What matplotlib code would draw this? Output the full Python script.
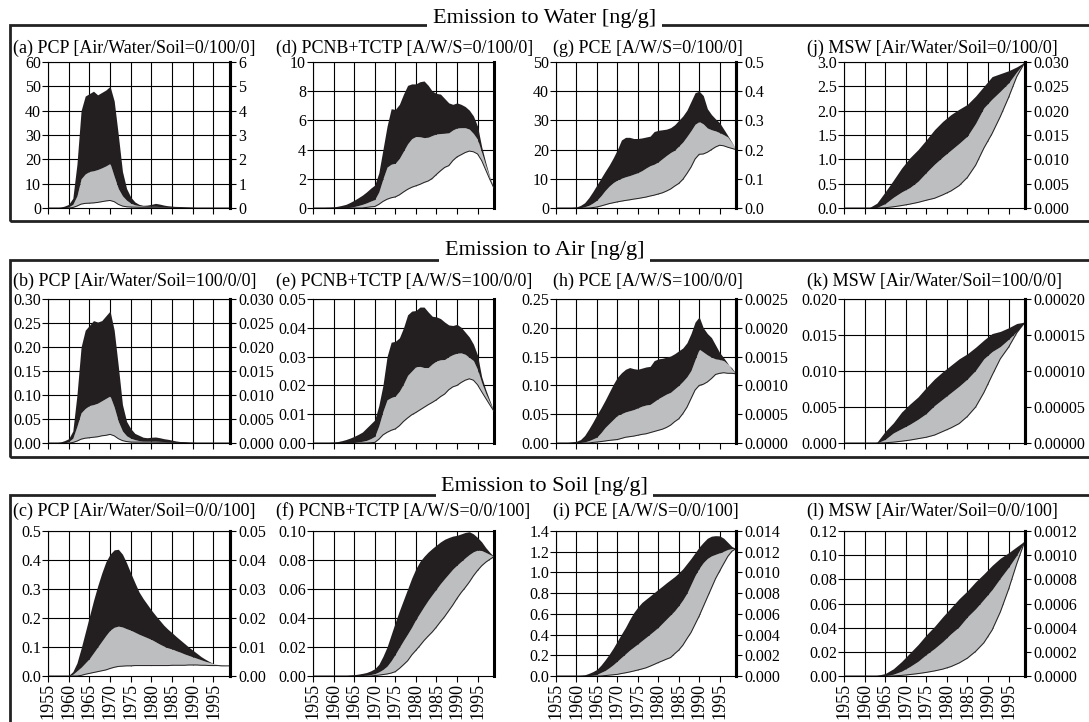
import matplotlib
matplotlib.use('Agg')
import matplotlib.pyplot as plt
from matplotlib.patches import Rectangle
from matplotlib.ticker import FormatStrFormatter
import numpy as np

plt.rcParams['font.family'] = 'Liberation Serif'

W, H = 1089, 722
BLACK = '#231f20'
GRAY = '#bdbec0'

years = np.arange(1955, 2000)        # yearly series
years2 = np.arange(1955, 2000, 2)    # MSW series, every 2 years
tick_years = list(range(1955, 2000, 5))

# --- PCP ---
pcp_w_top = [0, 0, 0.1, 0.3, 0.8, 1.5, 4, 18, 40, 46,
             47, 48, 46.5, 47.5, 48.5, 50, 44, 30, 15, 8,
             4.5, 2.5, 1.5, 1.1, 1.2, 1.5, 1.9, 1.6, 1.2, 0.9,
             0.7, 0.5, 0.3, 0.2, 0.1, 0.05, 0, 0, 0, 0,
             0, 0, 0, 0, 0]
pcp_w_mid = [0, 0, 0, 0, 0, 0.5, 1.5, 5, 12, 14,
             15, 15.3, 15.8, 16.5, 17.3, 18.3, 13, 8, 5, 3.2,
             2, 1.3, 1, 0.8, 0.7, 0.7, 0.7, 0.6, 0.5, 0.4,
             0.3, 0.2, 0.15, 0.1, 0.05, 0, 0, 0, 0, 0,
             0, 0, 0, 0, 0]
pcp_w_low = [0, 0, 0, 0, 0, 0, 0.2, 0.8, 1.6, 1.9,
             2.0, 2.1, 2.3, 2.6, 2.9, 3.1, 2.6, 1.5, 0.8, 0.5,
             0.4, 0.35, 0.3, 0.3, 0.3, 0.3, 0.3, 0.3, 0.3, 0.3,
             0.3, 0.25, 0.2, 0.15, 0.1, 0.05, 0, 0, 0, 0,
             0, 0, 0, 0, 0]

pcp_a_top = [0, 0, 0.0005, 0.002, 0.005, 0.009, 0.025, 0.1, 0.2, 0.235,
             0.245, 0.255, 0.252, 0.255, 0.265, 0.275, 0.235, 0.16, 0.08, 0.045,
             0.03, 0.02, 0.016, 0.012, 0.011, 0.012, 0.0125, 0.011, 0.009, 0.0077,
             0.006, 0.004, 0.003, 0.002, 0.001, 0.0005, 0, 0, 0, 0,
             0, 0, 0, 0, 0]
pcp_a_mid = [0, 0, 0, 0, 0, 0.003, 0.01, 0.035, 0.063, 0.072,
             0.078, 0.08, 0.083, 0.088, 0.093, 0.098, 0.075, 0.045, 0.025, 0.015,
             0.01, 0.007, 0.005, 0.004, 0.004, 0.004, 0.004, 0.0035, 0.003, 0.0025,
             0.002, 0.0015, 0.001, 0.0005, 0, 0, 0, 0, 0, 0,
             0, 0, 0, 0, 0]
pcp_a_low = [0, 0, 0, 0, 0, 0, 0.001, 0.004, 0.008, 0.010,
             0.011, 0.012, 0.013, 0.015, 0.016, 0.018, 0.015, 0.009, 0.005, 0.003,
             0.002, 0.0018, 0.0018, 0.0018, 0.0018, 0.0018, 0.0017, 0.0016, 0.0016, 0.0015,
             0.0015, 0.0013, 0.001, 0.0008, 0.0005, 0.0003, 0, 0, 0, 0,
             0, 0, 0, 0, 0]

pcp_s_top = [0, 0, 0, 0, 0, 0.002, 0.015, 0.045, 0.095, 0.15,
             0.205, 0.26, 0.31, 0.355, 0.394, 0.42, 0.435, 0.437, 0.42, 0.39,
             0.355, 0.322, 0.29, 0.267, 0.247, 0.227, 0.209, 0.192, 0.175, 0.161,
             0.149, 0.136, 0.124, 0.112, 0.1, 0.089, 0.078, 0.067, 0.058, 0.05,
             0.043, 0.04, 0.038, 0.036, 0.035]
pcp_s_mid = [0, 0, 0, 0, 0, 0, 0.006, 0.018, 0.03, 0.045,
             0.06, 0.08, 0.1, 0.12, 0.14, 0.158, 0.168, 0.172, 0.169, 0.163,
             0.158, 0.151, 0.144, 0.138, 0.132, 0.126, 0.118, 0.11, 0.103, 0.097,
             0.093, 0.087, 0.082, 0.076, 0.071, 0.066, 0.061, 0.056, 0.051, 0.047,
             0.043, 0.04, 0.038, 0.036, 0.035]
pcp_s_low = [0, 0, 0, 0, 0, 0, 0, 0, 0.002, 0.006,
             0.009, 0.012, 0.015, 0.018, 0.021, 0.026, 0.03, 0.033, 0.034, 0.035,
             0.035, 0.036, 0.036, 0.036, 0.036, 0.036, 0.036, 0.036, 0.036, 0.036,
             0.037, 0.037, 0.037, 0.037, 0.038, 0.038, 0.038, 0.037, 0.037, 0.036,
             0.036, 0.036, 0.035, 0.035, 0.035]

# --- PCNB+TCTP ---
pcnb_w_top = [0, 0.01, 0.02, 0.04, 0.05, 0.07, 0.12, 0.18, 0.25, 0.38,
              0.53, 0.7, 0.88, 1.1, 1.35, 1.57, 2.4, 4.0, 5.6, 6.8,
              6.75, 7.1, 7.8, 8.4, 8.5, 8.5, 8.65, 8.7, 8.4, 8.0,
              7.85, 7.8, 7.5, 7.2, 7.1, 7.2, 7.1, 6.95, 6.7, 6.3,
              5.6, 4.2, 3.1, 2.1, 1.35]
pcnb_w_mid = [0, 0, 0, 0, 0, 0, 0, 0, 0, 0.05,
              0.1, 0.17, 0.25, 0.35, 0.47, 0.58, 1.1, 2.0, 2.8, 3.0,
              3.07, 3.4, 3.9, 4.4, 4.75, 4.9, 4.88, 4.82, 4.85, 4.97,
              5.07, 5.1, 5.12, 5.15, 5.35, 5.48, 5.5, 5.5, 5.4, 5.1,
              4.7, 3.8, 2.9, 2.05, 1.35]
pcnb_w_low = [0, 0, 0, 0, 0, 0, 0, 0, 0, 0,
              0, 0, 0, 0.04, 0.08, 0.1, 0.25, 0.45, 0.6, 0.7,
              0.76, 0.9, 1.1, 1.28, 1.42, 1.52, 1.62, 1.75, 1.85, 2.03,
              2.3, 2.55, 2.78, 2.9, 3.25, 3.5, 3.65, 3.8, 3.9, 3.85,
              3.7, 3.25, 2.6, 1.95, 1.35]

pcnb_a_top = [0, 0, 0.0001, 0.0001, 0.0002, 0.0003, 0.0005, 0.0008, 0.0012, 0.0017,
              0.0023, 0.003, 0.0038, 0.0052, 0.0066, 0.008, 0.013, 0.02, 0.03, 0.035,
              0.0353, 0.0365, 0.04, 0.0445, 0.0458, 0.046, 0.0472, 0.0472, 0.0455, 0.044,
              0.0438, 0.0432, 0.042, 0.041, 0.0408, 0.0412, 0.0402, 0.0385, 0.0368, 0.0343,
              0.0305, 0.023, 0.0185, 0.0147, 0.011]
pcnb_a_mid = [0, 0, 0, 0, 0, 0, 0, 0, 0, 0,
              0.0002, 0.0004, 0.0006, 0.0009, 0.0015, 0.0023, 0.006, 0.011, 0.015, 0.0158,
              0.0163, 0.018, 0.0205, 0.0235, 0.025, 0.0265, 0.0266, 0.0262, 0.0262, 0.0275,
              0.0285, 0.0289, 0.029, 0.03, 0.0307, 0.0312, 0.0313, 0.0308, 0.0297, 0.0286,
              0.0255, 0.021, 0.0172, 0.014, 0.011]
pcnb_a_low = [0, 0, 0, 0, 0, 0, 0, 0, 0, 0,
              0, 0, 0, 0, 0.0001, 0.0002, 0.0013, 0.0028, 0.0037, 0.0044,
              0.0049, 0.006, 0.0075, 0.0087, 0.0098, 0.0106, 0.0115, 0.0124, 0.0133, 0.0141,
              0.015, 0.0161, 0.017, 0.0185, 0.0195, 0.02, 0.021, 0.0218, 0.0223, 0.0218,
              0.0202, 0.0178, 0.0155, 0.0132, 0.011]

pcnb_s_top = [0, 0, 0, 0, 0, 0, 0, 0, 0.0003, 0.0006,
              0.0009, 0.0013, 0.0018, 0.0024, 0.0035, 0.005, 0.008, 0.0135, 0.02, 0.0285,
              0.037, 0.045, 0.0525, 0.06, 0.0675, 0.074, 0.079, 0.0825, 0.0855, 0.088,
              0.0903, 0.0925, 0.0943, 0.0955, 0.0965, 0.097, 0.098, 0.099, 0.0995, 0.098,
              0.0955, 0.0925, 0.0885, 0.0852, 0.0823]
pcnb_s_mid = [0, 0, 0, 0, 0, 0, 0, 0, 0, 0,
              0, 0, 0.0003, 0.0006, 0.001, 0.0016, 0.0028, 0.0045, 0.0068, 0.0105,
              0.015, 0.0198, 0.0245, 0.029, 0.0337, 0.039, 0.0435, 0.048, 0.0523, 0.0562,
              0.06, 0.0638, 0.0672, 0.0705, 0.0738, 0.0765, 0.079, 0.0815, 0.0838, 0.0857,
              0.0868, 0.0865, 0.0852, 0.0838, 0.0823]
pcnb_s_low = [0, 0, 0, 0, 0, 0, 0, 0, 0, 0,
              0, 0, 0, 0, 0, 0.0003, 0.0006, 0.001, 0.0014, 0.002,
              0.003, 0.0052, 0.0078, 0.0105, 0.0145, 0.0177, 0.021, 0.0245, 0.0275, 0.0304,
              0.0338, 0.0375, 0.041, 0.045, 0.049, 0.0535, 0.0575, 0.061, 0.0648, 0.0691,
              0.0728, 0.076, 0.0785, 0.0805, 0.0823]

# --- PCE ---
pce_w_top = [0, 0, 0.05, 0.1, 0.2, 0.35, 0.9, 1.8, 3.5, 5.6,
             7.9, 10.2, 12.5, 14.7, 17.2, 20, 23.3, 24.2, 24.2, 23.8,
             23.8, 24, 24.3, 24.6, 26.2, 26.6, 26.8, 27, 27.5, 28.5,
             30, 31.5, 33.5, 36.5, 39.5, 40, 38.5, 34, 32, 30.5,
             29.2, 27, 24.8, 22.5, 20]
pce_w_mid = [0, 0, 0, 0, 0, 0, 0.1, 0.45, 0.9, 1.7,
             2.7, 4.2, 6.0, 7.5, 8.7, 9.6, 10.2, 10.7, 11.1, 11.6,
             12.1, 12.8, 13.7, 14.5, 15.0, 15.8, 16.9, 18.0, 19.0, 19.8,
             21.2, 22.6, 24.5, 26.5, 28.7, 29.6, 28.8, 27.4, 26.8, 26.4,
             25.8, 25.1, 24.3, 22.3, 20]
pce_w_low = [0, 0, 0, 0, 0, 0, 0, 0, 0, 0.15,
             0.35, 0.7, 1.1, 1.5, 1.8, 2.1, 2.35, 2.6, 2.8, 3.05,
             3.25, 3.5, 3.75, 4.1, 4.4, 4.8, 5.2, 5.8, 6.5, 7.5,
             8.4, 9.8, 11.8, 14.0, 16.8, 18.4, 18.5, 19.1, 20.0, 20.9,
             21.5, 21.3, 20.8, 20.4, 20]

pce_a_top = [0, 0, 0.0005, 0.001, 0.002, 0.003, 0.006, 0.013, 0.024, 0.036,
             0.049, 0.061, 0.074, 0.088, 0.102, 0.114, 0.122, 0.128, 0.131, 0.129,
             0.128, 0.13, 0.132, 0.133, 0.143, 0.146, 0.147, 0.149, 0.151, 0.155,
             0.16, 0.165, 0.174, 0.19, 0.21, 0.219, 0.2, 0.19, 0.183, 0.17,
             0.157, 0.148, 0.138, 0.128, 0.12]
pce_a_mid = [0, 0, 0, 0, 0, 0, 0.001, 0.002, 0.004, 0.007,
             0.0103, 0.018, 0.027, 0.034, 0.041, 0.048, 0.051, 0.054, 0.056, 0.058,
             0.061, 0.064, 0.066, 0.067, 0.072, 0.077, 0.081, 0.085, 0.088, 0.094,
             0.1, 0.107, 0.115, 0.126, 0.145, 0.163, 0.158, 0.153, 0.149, 0.146,
             0.145, 0.143, 0.137, 0.13, 0.12]
pce_a_low = [0, 0, 0, 0, 0, 0, 0, 0, 0, 0.001,
             0.0017, 0.0025, 0.0035, 0.0045, 0.0053, 0.006, 0.008, 0.01, 0.011, 0.012,
             0.0135, 0.015, 0.016, 0.018, 0.02, 0.022, 0.024, 0.027, 0.031, 0.037,
             0.042, 0.051, 0.062, 0.077, 0.092, 0.1, 0.102, 0.106, 0.112, 0.119,
             0.121, 0.122, 0.121, 0.121, 0.12]

pce_s_top = [0, 0, 0, 0.001, 0.002, 0.003, 0.006, 0.011, 0.025, 0.042,
             0.064, 0.105, 0.155, 0.21, 0.27, 0.338, 0.405, 0.47, 0.545, 0.612,
             0.665, 0.71, 0.742, 0.773, 0.805, 0.837, 0.868, 0.9, 0.93, 0.96,
             0.995, 1.035, 1.085, 1.135, 1.19, 1.245, 1.29, 1.33, 1.35, 1.355,
             1.353, 1.33, 1.29, 1.25, 1.23]
pce_s_mid = [0, 0, 0, 0, 0, 0, 0, 0, 0.003, 0.008,
             0.016, 0.035, 0.053, 0.08, 0.11, 0.145, 0.18, 0.215, 0.25, 0.28,
             0.31, 0.342, 0.373, 0.405, 0.437, 0.47, 0.51, 0.55, 0.59, 0.63,
             0.68, 0.735, 0.8, 0.885, 0.97, 1.04, 1.095, 1.135, 1.16, 1.175,
             1.19, 1.205, 1.222, 1.23, 1.23]
pce_s_low = [0, 0, 0, 0, 0, 0, 0, 0, 0, 0,
             0, 0, 0.004, 0.008, 0.012, 0.016, 0.024, 0.031, 0.039, 0.048,
             0.058, 0.068, 0.079, 0.095, 0.112, 0.13, 0.146, 0.163, 0.178, 0.215,
             0.25, 0.297, 0.36, 0.42, 0.5, 0.58, 0.67, 0.76, 0.85, 0.94,
             1.014, 1.085, 1.155, 1.205, 1.23]

# --- MSW (every 2 years) ---
msw_w_top = [0, 0, 0, 0, 0.1, 0.33, 0.57, 0.82, 1.03, 1.2, 1.4, 1.61,
             1.78, 1.92, 2.03, 2.13, 2.3, 2.5, 2.7, 2.76, 2.82, 2.9, 3.0]
msw_w_mid = [0, 0, 0, 0, 0.01, 0.09, 0.22, 0.33, 0.42, 0.55, 0.73, 0.9,
             1.05, 1.19, 1.33, 1.48, 1.74, 2.06, 2.24, 2.4, 2.57, 2.8, 3.0]
msw_w_low = [0, 0, 0, 0, 0, 0.005, 0.025, 0.05, 0.08, 0.115, 0.16, 0.2,
             0.27, 0.35, 0.46, 0.63, 0.88, 1.23, 1.53, 1.88, 2.27, 2.7, 3.0]

msw_a_top = [0, 0, 0, 0, 0.0001, 0.0016, 0.0028, 0.0043, 0.0054, 0.0064, 0.0077, 0.0089,
             0.0099, 0.0108, 0.0117, 0.0124, 0.0133, 0.0143, 0.0152, 0.0155, 0.016, 0.0166, 0.0168]
msw_a_mid = [0, 0, 0, 0, 0, 0.0005, 0.0014, 0.002, 0.0026, 0.0033, 0.0041, 0.0052,
             0.0061, 0.007, 0.0079, 0.0089, 0.0101, 0.0117, 0.0127, 0.0134, 0.0144, 0.0155, 0.0168]
msw_a_low = [0, 0, 0, 0, 0, 0.00003, 0.00012, 0.00025, 0.0004, 0.0006, 0.0008, 0.0011,
             0.0016, 0.0021, 0.0027, 0.0037, 0.005, 0.007, 0.0094, 0.0117, 0.0133, 0.0153, 0.0168]

msw_s_top = [0, 0, 0, 0, 0.0005, 0.002, 0.006, 0.012, 0.019, 0.026, 0.034, 0.041,
             0.049, 0.0565, 0.064, 0.0705, 0.078, 0.0845, 0.0915, 0.0975, 0.102, 0.107, 0.112]
msw_s_mid = [0, 0, 0, 0, 0, 0.0002, 0.0015, 0.004, 0.0078, 0.0122, 0.0178, 0.0228,
             0.0285, 0.035, 0.0408, 0.049, 0.0557, 0.0635, 0.0715, 0.081, 0.09, 0.1, 0.112]
msw_s_low = [0, 0, 0, 0, 0, 0, 0.0001, 0.0005, 0.0012, 0.002, 0.003, 0.0042,
             0.0057, 0.0078, 0.0108, 0.0148, 0.0204, 0.0275, 0.038, 0.053, 0.0717, 0.093, 0.112]

row_titles = ['Emission to Water [ng/g]', 'Emission to Air [ng/g]', 'Emission to Soil [ng/g]']

# (label, x, low, mid, top, ymax, ystep, left fmt, right fmt or None)
panels = [
    [('(a) PCP [Air/Water/Soil=0/100/0]', years, pcp_w_low, pcp_w_mid, pcp_w_top, 60, 10, '%d', '%d'),
     ('(d) PCNB+TCTP [A/W/S=0/100/0]', years, pcnb_w_low, pcnb_w_mid, pcnb_w_top, 10, 2, '%d', None),
     ('(g) PCE [A/W/S=0/100/0]', years, pce_w_low, pce_w_mid, pce_w_top, 50, 10, '%d', '%.1f'),
     ('(j) MSW [Air/Water/Soil=0/100/0]', years2, msw_w_low, msw_w_mid, msw_w_top, 3.0, 0.5, '%.1f', '%.3f')],
    [('(b) PCP [Air/Water/Soil=100/0/0]', years, pcp_a_low, pcp_a_mid, pcp_a_top, 0.30, 0.05, '%.2f', '%.3f'),
     ('(e) PCNB+TCTP [A/W/S=100/0/0]', years, pcnb_a_low, pcnb_a_mid, pcnb_a_top, 0.05, 0.01, '%.2f', None),
     ('(h) PCE [A/W/S=100/0/0]', years, pce_a_low, pce_a_mid, pce_a_top, 0.25, 0.05, '%.2f', '%.4f'),
     ('(k) MSW [Air/Water/Soil=100/0/0]', years2, msw_a_low, msw_a_mid, msw_a_top, 0.020, 0.005, '%.3f', '%.5f')],
    [('(c) PCP [Air/Water/Soil=0/0/100]', years, pcp_s_low, pcp_s_mid, pcp_s_top, 0.5, 0.1, '%.1f', '%.2f'),
     ('(f) PCNB+TCTP [A/W/S=0/0/100]', years, pcnb_s_low, pcnb_s_mid, pcnb_s_top, 0.10, 0.02, '%.2f', None),
     ('(i) PCE [A/W/S=0/0/100]', years, pce_s_low, pce_s_mid, pce_s_top, 1.4, 0.2, '%.1f', '%.3f'),
     ('(l) MSW [Air/Water/Soil=0/0/100]', years2, msw_s_low, msw_s_mid, msw_s_top, 0.12, 0.02, '%.2f', '%.4f')],
]
right_scale = [0.1, None, 0.01, 0.01]

# layout in pixels
rows_px = [(62, 208), (299, 443), (531, 676)]
cols_px = [(48, 230), (313, 494), (556, 736), (844, 1025)]
title_x = [13, 276, 553, 807]
title_y = [48, 281, 511]
box_px = [(25, 221), (260, 457), (495, 740)]
rowtitle_y = [18, 251, 486]

fig = plt.figure(figsize=(W / 100, H / 100), dpi=100)

for r, row in enumerate(panels):
    y0, y1 = rows_px[r]
    for c, (label, x, low, mid, top, ymax, ystep, lfmt, rfmt) in enumerate(row):
        x0, x1 = cols_px[c]
        ax = fig.add_axes([x0 / W, 1 - y1 / H, (x1 - x0) / W, (y1 - y0) / H])
        ax.fill_between(x, 0, low, color='white', lw=0, zorder=2)
        ax.fill_between(x, low, mid, color=GRAY, lw=0, zorder=2)
        ax.fill_between(x, mid, top, color=BLACK, lw=0, zorder=2)
        ax.plot(x, low, color=BLACK, lw=0.7, zorder=3)

        ax.set_xlim(1955, 1999)
        ax.set_ylim(0, ymax)
        yt = np.arange(0, ymax + ystep / 2, ystep)
        ax.set_yticks(yt)
        ax.yaxis.set_major_formatter(FormatStrFormatter(lfmt))
        ax.set_xticks(tick_years)
        ax.set_axisbelow(True)
        ax.grid(True, color='black', lw=0.8)
        ax.tick_params(direction='out', length=4, width=0.8, labelsize=11.5, pad=1)
        for s in ['left', 'top', 'bottom']:
            ax.spines[s].set_linewidth(0.8)
        ax.spines['right'].set_linewidth(2.2)
        if r < 2:
            ax.tick_params(axis='x', labelbottom=False)
        else:
            ax.set_xticklabels([str(t) for t in tick_years], rotation=90, fontsize=13)

        if rfmt is not None:
            ax2 = ax.twinx()
            ax2.set_ylim(0, ymax * right_scale[c])
            ax2.set_yticks(yt * right_scale[c])
            ax2.yaxis.set_major_formatter(FormatStrFormatter(rfmt))
            ax2.tick_params(direction='out', length=4, width=0.8, labelsize=11.5, pad=2)
            for s in ['left', 'top', 'bottom']:
                ax2.spines[s].set_visible(False)
            ax2.spines['right'].set_linewidth(2.2)

        fig.text(title_x[c] / W, 1 - title_y[r] / H, label, fontsize=13,
                 ha='left', va='center')

    # section frame (right and bottom edges run off the picture) with its title on the top edge
    b0, b1 = box_px[r]
    fig.add_artist(Rectangle((10 / W, 1 - b1 / H), (1100 - 10) / W, (b1 - b0) / H,
                             transform=fig.transFigure, fill=False, lw=2, ec='#222222'))
    fig.text(0.5, 1 - rowtitle_y[r] / H, row_titles[r], fontsize=16, ha='center', va='center',
             bbox=dict(facecolor='white', edgecolor='none', pad=4))

fig.savefig('out.png', dpi=100)
